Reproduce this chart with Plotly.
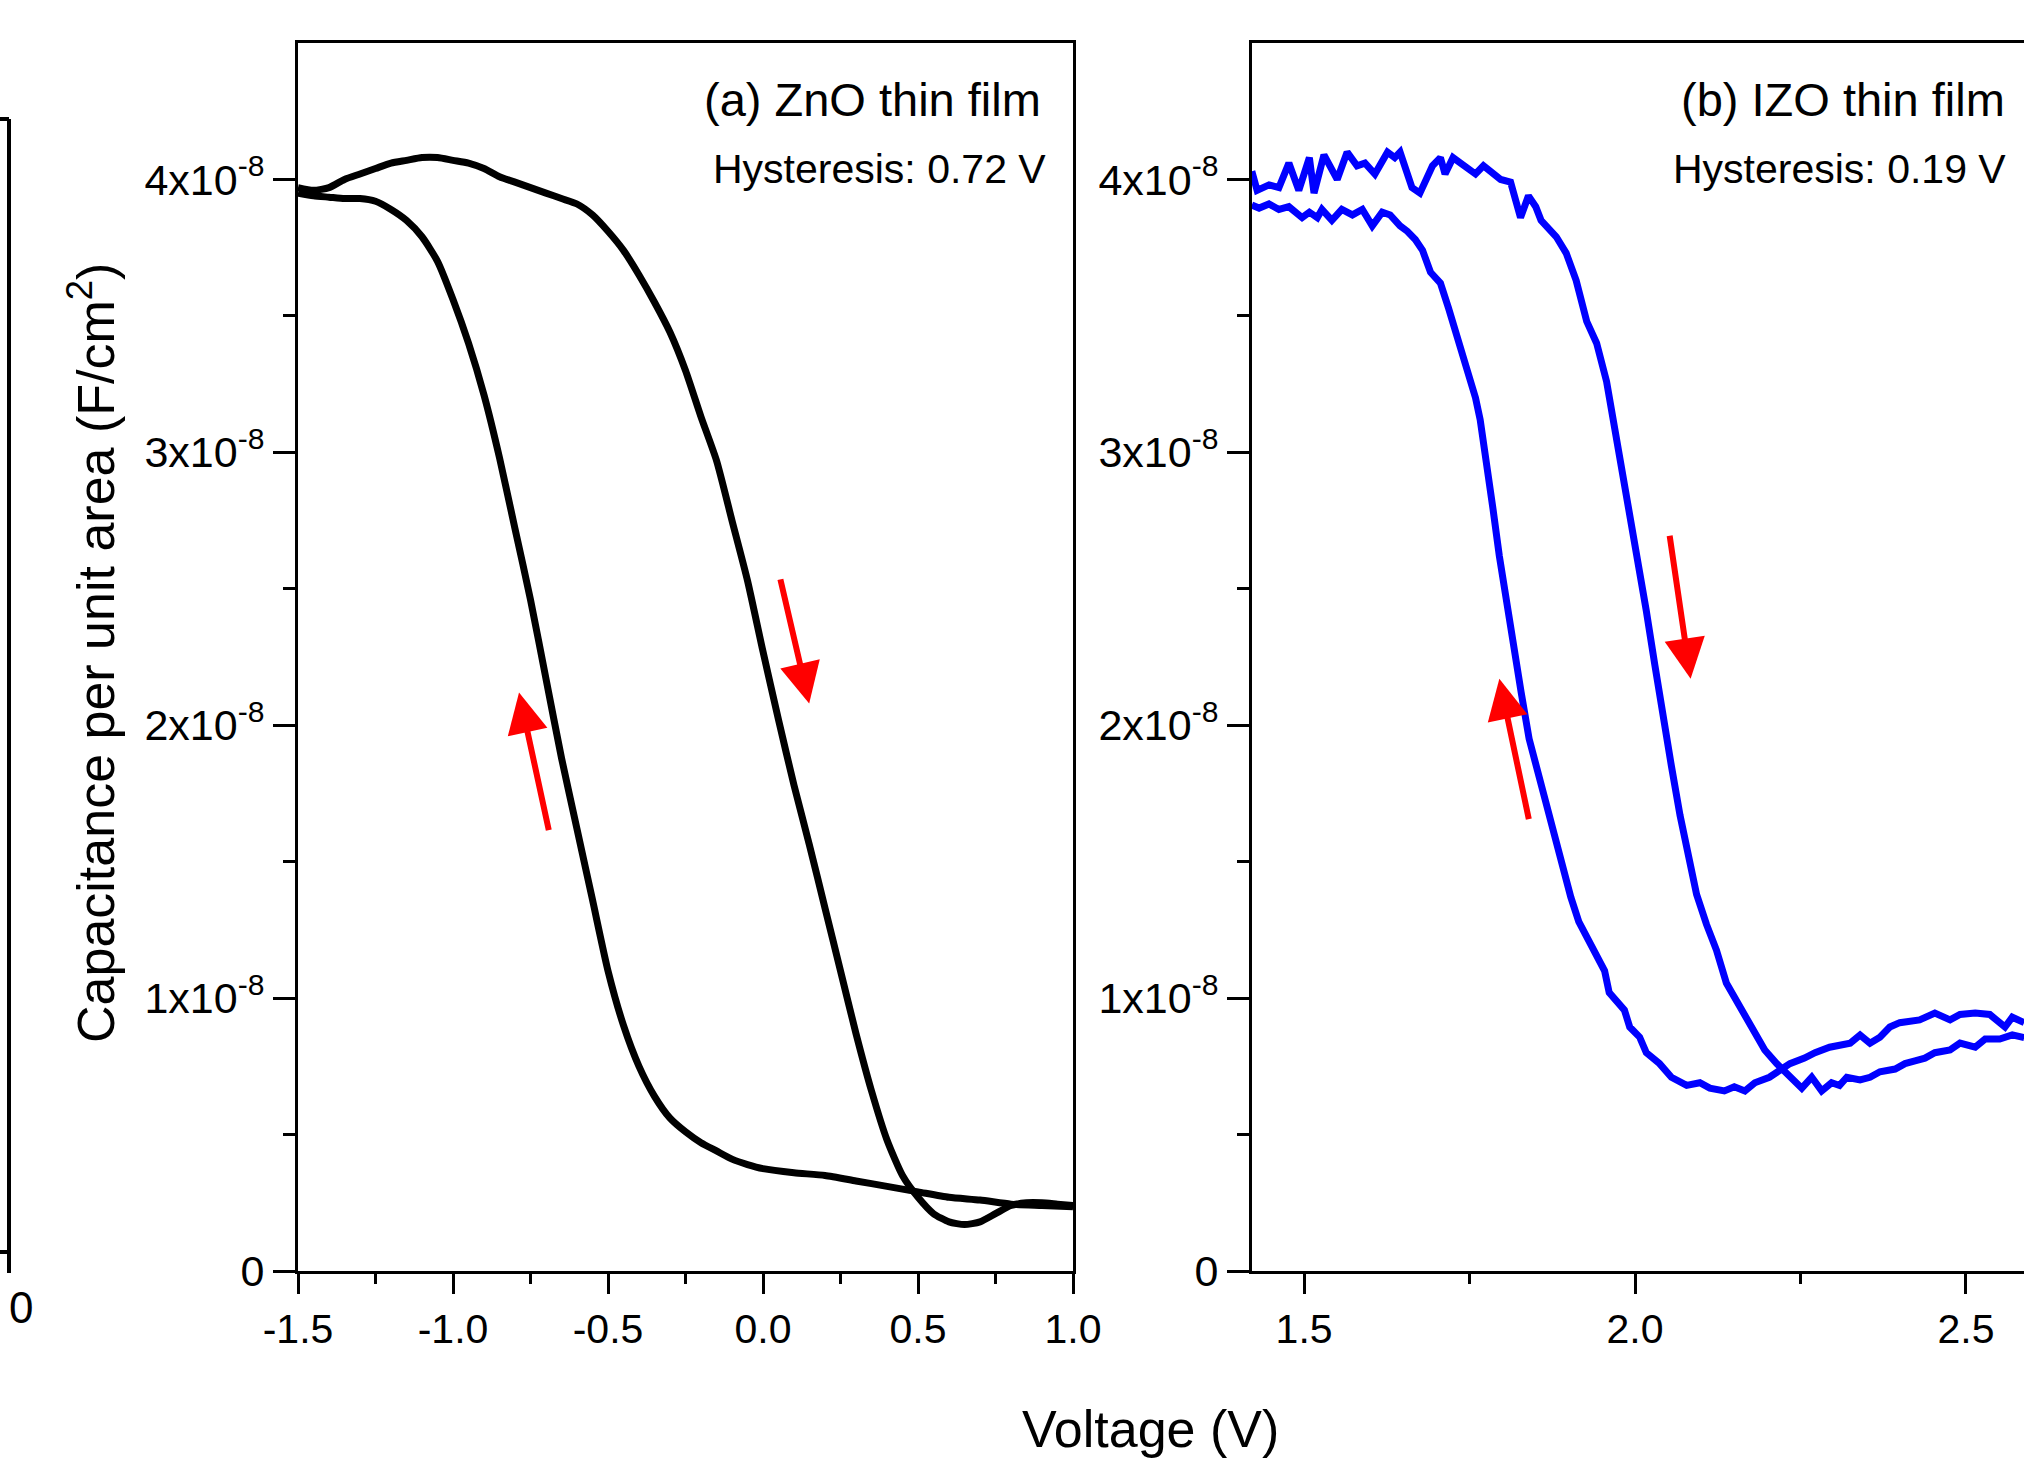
import plotly.graph_objects as go

# (a) ZnO thin film, capacitance in units of 1e-8 F/cm^2
zno_up_v = [-1.50, -1.45, -1.40, -1.35, -1.30, -1.25, -1.20, -1.15, -1.10, -1.05, -1.00, -0.95,
            -0.90, -0.85, -0.80, -0.75, -0.70, -0.65, -0.60, -0.55, -0.50, -0.45, -0.40, -0.35,
            -0.30, -0.25, -0.20, -0.15, -0.10, -0.05, 0.00, 0.10, 0.20, 0.30, 0.40, 0.50,
            0.60, 0.70, 0.80, 0.90, 1.00]
zno_up_c = [3.95, 3.94, 3.935, 3.93, 3.93, 3.92, 3.89, 3.85, 3.79, 3.70, 3.56, 3.40,
            3.21, 2.98, 2.72, 2.46, 2.17, 1.88, 1.62, 1.36, 1.10, 0.90, 0.75, 0.64,
            0.56, 0.51, 0.47, 0.44, 0.41, 0.39, 0.375, 0.36, 0.35, 0.33, 0.31, 0.29,
            0.27, 0.26, 0.245, 0.24, 0.235]

zno_down_v = [-1.50, -1.45, -1.40, -1.35, -1.30, -1.25, -1.20, -1.15, -1.10, -1.05, -1.00, -0.95,
              -0.90, -0.85, -0.80, -0.75, -0.70, -0.65, -0.60, -0.55, -0.50, -0.45, -0.40, -0.35,
              -0.30, -0.25, -0.20, -0.15, -0.10, -0.05, 0.00, 0.05, 0.10, 0.15, 0.20, 0.25,
              0.30, 0.35, 0.40, 0.45, 0.50, 0.55, 0.60, 0.65, 0.70, 0.75, 0.80, 0.85,
              0.90, 0.95, 1.00]
zno_down_c = [3.97, 3.96, 3.97, 4.00, 4.02, 4.04, 4.06, 4.07, 4.08, 4.08, 4.07, 4.06,
              4.04, 4.01, 3.99, 3.97, 3.95, 3.93, 3.91, 3.87, 3.81, 3.74, 3.65, 3.55,
              3.44, 3.30, 3.13, 2.97, 2.75, 2.53, 2.27, 2.02, 1.78, 1.56, 1.33, 1.10,
              0.87, 0.66, 0.48, 0.35, 0.27, 0.21, 0.18, 0.17, 0.18, 0.21, 0.24, 0.25,
              0.25, 0.245, 0.24]

# (b) IZO thin film
izo_up_v = [1.421, 1.432, 1.447, 1.462, 1.477, 1.497, 1.508, 1.520, 1.527, 1.542, 1.557, 1.573,
            1.588, 1.603, 1.618, 1.630, 1.645, 1.656, 1.668, 1.679, 1.691, 1.706, 1.718, 1.733,
            1.744, 1.759, 1.766, 1.775, 1.785, 1.795, 1.805, 1.815, 1.828, 1.840, 1.852, 1.865,
            1.878, 1.890, 1.903, 1.915, 1.928, 1.939, 1.954, 1.961, 1.984, 1.992, 2.007, 2.017,
            2.037, 2.055, 2.078, 2.098, 2.113, 2.135, 2.150, 2.166, 2.181, 2.203, 2.222, 2.234,
            2.256, 2.272, 2.294, 2.325, 2.340, 2.355, 2.370, 2.385, 2.400, 2.430, 2.453, 2.476,
            2.491, 2.514, 2.536, 2.559, 2.570, 2.588]
izo_up_c = [3.906, 3.895, 3.91, 3.89, 3.90, 3.86, 3.88, 3.86, 3.89, 3.85, 3.89, 3.87,
            3.89, 3.83, 3.88, 3.87, 3.83, 3.81, 3.78, 3.74, 3.66, 3.62, 3.53, 3.41,
            3.31, 3.20, 3.12, 2.98, 2.80, 2.62, 2.46, 2.30, 2.12, 1.95, 1.85, 1.72,
            1.60, 1.48, 1.37, 1.28, 1.22, 1.176, 1.10, 1.02, 0.956, 0.894, 0.857, 0.80,
            0.76, 0.71, 0.68, 0.69, 0.67, 0.66, 0.675, 0.66, 0.69, 0.71, 0.74, 0.76,
            0.78, 0.80, 0.82, 0.835, 0.865, 0.835, 0.857, 0.894, 0.91, 0.92, 0.945, 0.92,
            0.94, 0.945, 0.94, 0.894, 0.93, 0.91]

izo_down_v = [1.421, 1.429, 1.447, 1.462, 1.477, 1.492, 1.508, 1.515, 1.530, 1.550, 1.565, 1.580,
              1.592, 1.607, 1.626, 1.637, 1.645, 1.663, 1.675, 1.694, 1.706, 1.713, 1.725, 1.744,
              1.759, 1.771, 1.789, 1.797, 1.812, 1.820, 1.827, 1.839, 1.850, 1.858, 1.881, 1.896,
              1.911, 1.927, 1.942, 1.957, 1.967, 1.980, 1.993, 2.005, 2.017, 2.030, 2.042, 2.055,
              2.068, 2.080, 2.093, 2.108, 2.123, 2.138, 2.158, 2.181, 2.196, 2.214, 2.234, 2.252,
              2.267, 2.282, 2.297, 2.309, 2.320, 2.340, 2.355, 2.370, 2.393, 2.408, 2.423, 2.438,
              2.453, 2.476, 2.491, 2.514, 2.529, 2.551, 2.570, 2.588]
izo_down_c = [4.03, 3.96, 3.98, 3.97, 4.06, 3.96, 4.08, 3.95, 4.09, 4.00, 4.10, 4.05,
              4.06, 4.02, 4.10, 4.08, 4.10, 3.97, 3.95, 4.05, 4.08, 4.02, 4.08, 4.05,
              4.02, 4.05, 4.02, 4.00, 3.99, 3.91, 3.86, 3.94, 3.90, 3.85, 3.79, 3.73,
              3.63, 3.48, 3.40, 3.26, 3.12, 2.95, 2.78, 2.60, 2.42, 2.22, 2.03, 1.85,
              1.67, 1.52, 1.38, 1.27, 1.176, 1.055, 0.97, 0.87, 0.81, 0.76, 0.71, 0.67,
              0.71, 0.66, 0.69, 0.68, 0.71, 0.70, 0.71, 0.73, 0.74, 0.76, 0.77, 0.78,
              0.80, 0.81, 0.835, 0.82, 0.85, 0.85, 0.865, 0.855]

# sweep-direction arrows: (tail V, tail C, tip V, tip C)
arrows_a = [(-0.690, 1.61, -0.787, 2.12), (0.055, 2.54, 0.149, 2.08)]
arrows_b = [(1.840, 1.65, 1.795, 2.17), (2.052, 2.70, 2.084, 2.17)]

y_tick_vals = [0, 1, 2, 3, 4]
y_minor_vals = [0.5, 1.5, 2.5, 3.5]
y_tick_text = ['0', '1x10<sup>-8</sup>', '2x10<sup>-8</sup>', '3x10<sup>-8</sup>', '4x10<sup>-8</sup>']
xa_tick_vals = [-1.5, -1.0, -0.5, 0.0, 0.5, 1.0]
xa_tick_text = ['-1.5', '-1.0', '-0.5', '0.0', '0.5', '1.0']
xb_tick_vals = [1.5, 2.0, 2.5]
xb_tick_text = ['1.5', '2.0', '2.5']

FONT = 'Liberation Sans, Arial, sans-serif'
W, H = 2024, 1461
scale = 1e-8


def scaled(vals):
    return [v * scale for v in vals]


fig = go.Figure()
fig.add_trace(go.Scatter(x=zno_up_v, y=scaled(zno_up_c), mode='lines',
                         line=dict(color='black', width=7, shape='spline', smoothing=0.6),
                         xaxis='x', yaxis='y'))
fig.add_trace(go.Scatter(x=zno_down_v, y=scaled(zno_down_c), mode='lines',
                         line=dict(color='black', width=7, shape='spline', smoothing=0.6),
                         xaxis='x', yaxis='y'))
fig.add_trace(go.Scatter(x=izo_up_v, y=scaled(izo_up_c), mode='lines',
                         line=dict(color='#0000ff', width=7), xaxis='x2', yaxis='y2'))
fig.add_trace(go.Scatter(x=izo_down_v, y=scaled(izo_down_c), mode='lines',
                         line=dict(color='#0000ff', width=7), xaxis='x2', yaxis='y2'))

tickfont = dict(family=FONT, size=41, color='black')
axis_common = dict(showgrid=False, zeroline=False, showline=True, linecolor='black', linewidth=3,
                   ticks='outside', ticklen=20, tickwidth=3, tickcolor='black', tickfont=tickfont,
                   automargin=False)
y_common = dict(axis_common, range=[0, 4.5 * scale], tickmode='array', tickvals=scaled(y_tick_vals),
                ticktext=y_tick_text, ticklen=22, tickfont=dict(tickfont, size=43),
                minor=dict(ticks='outside', ticklen=12, tickwidth=3, tickcolor='black',
                           tickmode='array', tickvals=scaled(y_minor_vals)))

y_dom = [1 - 1271 / H, 1 - 43 / H]
fig.update_layout(
    width=W, height=H, margin=dict(l=0, r=0, t=0, b=0, autoexpand=False),
    plot_bgcolor='white', paper_bgcolor='white', showlegend=False,
    xaxis=dict(axis_common, domain=[298 / W, 1073 / W], range=[-1.5, 1.0], mirror=True,
               tickmode='array', tickvals=xa_tick_vals, ticktext=xa_tick_text,
               minor=dict(ticks='outside', ticklen=10, tickwidth=3, tickcolor='black',
                          tickmode='linear', tick0=-1.5, dtick=0.25)),
    yaxis=dict(y_common, domain=y_dom, anchor='x', mirror=True),
    xaxis2=dict(axis_common, domain=[1252 / W, 1.0], range=[1.4213, 2.5877], mirror=True,
                anchor='y2', tickmode='array', tickvals=xb_tick_vals, ticktext=xb_tick_text,
                minor=dict(ticks='outside', ticklen=10, tickwidth=3, tickcolor='black',
                           tickmode='linear', tick0=1.5, dtick=0.25)),
    yaxis2=dict(y_common, domain=y_dom, anchor='x2', mirror=False),
)

annotations = []
for xref, yref, arrs in (('x', 'y', arrows_a), ('x2', 'y2', arrows_b)):
    for tv, tc, hv, hc in arrs:
        annotations.append(dict(x=hv, y=hc * scale, ax=tv, ay=tc * scale, xref=xref, yref=yref,
                                axref=xref, ayref=yref, text='', showarrow=True, arrowhead=2,
                                arrowsize=1.35, arrowwidth=6, arrowcolor='#ff0000'))

labels = [('(a) ZnO thin film', 1043, 99, 47), ('Hysteresis: 0.72 V', 1048, 169, 41),
          ('(b) IZO thin film', 2007, 99, 47), ('Hysteresis: 0.19 V', 2008, 169, 41)]
for text, px, py, size in labels:
    annotations.append(dict(text=text, x=px / W, y=1 - py / H, xref='paper', yref='paper',
                            xanchor='right', yanchor='middle', showarrow=False,
                            font=dict(family=FONT, size=size, color='black')))

annotations.append(dict(text='Voltage (V)', x=1150 / W, y=1 - 1429 / H, xref='paper', yref='paper',
                        xanchor='center', yanchor='middle', showarrow=False,
                        font=dict(family=FONT, size=52, color='black')))
annotations.append(dict(text='Capacitance per unit area (F/cm<sup>2</sup>)', x=92 / W, y=1 - 653 / H,
                        xref='paper', yref='paper', xanchor='center', yanchor='middle',
                        textangle=-90, showarrow=False,
                        font=dict(family=FONT, size=52, color='black')))

# fragment of a neighbouring panel cut off at the left edge
annotations.append(dict(text='0', x=21 / W, y=1 - 1307 / H, xref='paper', yref='paper',
                        xanchor='center', yanchor='middle', showarrow=False,
                        font=dict(family=FONT, size=44, color='black')))
frag = [((0, 119), (9, 119)), ((9, 119), (9, 1273)), ((0, 1252), (9, 1252))]
shapes = []
for (x0, y0), (x1, y1) in frag:
    shapes.append(dict(type='line', xref='paper', yref='paper', x0=x0 / W, y0=1 - y0 / H,
                       x1=x1 / W, y1=1 - y1 / H, line=dict(color='black', width=4)))

fig.update_layout(annotations=annotations, shapes=shapes)
fig.write_html('out.html', config={'displayModeBar': False},
               post_script="document.body.style.margin='0';document.body.style.overflow='hidden';")
